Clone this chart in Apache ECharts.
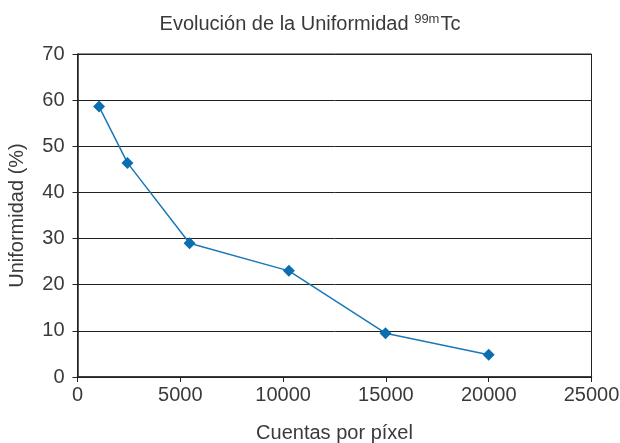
<!DOCTYPE html>
<html>
<head>
<meta charset="utf-8">
<script src="https://cdn.jsdelivr.net/npm/echarts@6/dist/echarts.min.js"></script>
<style>
  html, body { margin: 0; padding: 0; background: #fff; }
  #chart { width: 620px; height: 443px; }
</style>
</head>
<body>
<div id="chart"></div>
<script>
// cuentas por pixel vs uniformidad (%)
var cuentas = [1050, 2430, 5450, 10280, 14980, 20000];
var uniformidad = [58.6, 46.4, 29.0, 23.0, 9.5, 4.8];
var yTicks = [0, 10, 20, 30, 40, 50, 60, 70];
var xTicks = [0, 5000, 10000, 15000, 20000, 25000];

var font = "'Liberation Sans', Arial, sans-serif";
var textColor = '#3a3a3a';

var chart = echarts.init(document.getElementById('chart'), null, { renderer: 'canvas' });
chart.setOption({
  animation: false,
  title: {
    text: 'Evolución de la Uniformidad {sup|99m}Tc',
    left: 'center',
    top: 8,
    textStyle: {
      fontFamily: font,
      fontSize: 20,
      fontWeight: 'normal',
      color: textColor,
      rich: {
        sup: { fontFamily: font, fontSize: 13, color: textColor, verticalAlign: 'top', padding: [0, 1, 9, 0] }
      }
    }
  },
  grid: {
    left: 77.5, right: 28.5, top: 54, bottom: 66,
    containLabel: false,
    outerBoundsMode: 'none',
    show: true,
    borderColor: '#222',
    borderWidth: 1
  },
  xAxis: {
    type: 'value',
    min: xTicks[0],
    max: xTicks[xTicks.length - 1],
    interval: 5000,
    name: 'Cuentas por píxel',
    nameLocation: 'middle',
    nameGap: 46,
    nameTextStyle: { fontFamily: font, fontSize: 20, color: textColor },
    axisLine: { show: true, lineStyle: { color: '#222', width: 1.5 } },
    axisTick: { show: true, length: 5, lineStyle: { color: '#222' } },
    axisLabel: {
      fontFamily: font, fontSize: 20, color: textColor, margin: 8,
      formatter: function (v) { return String(v); }
    },
    splitLine: { show: false }
  },
  yAxis: {
    type: 'value',
    min: yTicks[0],
    max: yTicks[yTicks.length - 1],
    interval: 10,
    name: 'Uniformidad (%)',
    nameLocation: 'middle',
    nameGap: 50,
    nameTextStyle: { fontFamily: font, fontSize: 20, color: textColor },
    axisLine: { show: true, lineStyle: { color: '#222', width: 1.5 } },
    axisTick: { show: true, length: 5, lineStyle: { color: '#222' } },
    axisLabel: { fontFamily: font, fontSize: 20, color: textColor, margin: 13 },
    splitLine: { show: true, lineStyle: { color: '#222', width: 1 } }
  },
  series: [{
    type: 'line',
    data: cuentas.map(function (c, i) { return [c, uniformidad[i]]; }),
    symbol: 'diamond',
    symbolSize: 12,
    showAllSymbol: true,
    lineStyle: { color: '#1a78b8', width: 1.5 },
    itemStyle: { color: '#0a6eb0' }
  }]
});
</script>
</body>
</html>
